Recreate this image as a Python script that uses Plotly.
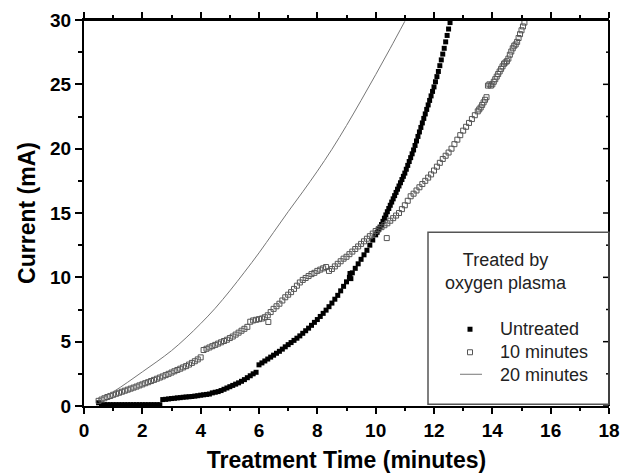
import plotly.graph_objects as go

# ---------------- data ----------------
# Untreated (filled squares)
untreated_x = [0.5, 0.6, 0.7, 0.8, 0.9, 1.0, 1.1, 1.2, 1.3, 1.4, 1.5, 1.6, 1.7, 1.8, 1.9,
               2.0, 2.1, 2.2, 2.3, 2.4, 2.5, 2.6, 2.7, 2.8, 2.9, 3.0, 3.1, 3.2, 3.3, 3.4,
               3.5, 3.6, 3.7, 3.8, 3.9, 4.0, 4.1, 4.2, 4.3, 4.4, 4.5, 4.6, 4.7, 4.8, 4.9,
               5.0, 5.1, 5.2, 5.3, 5.4, 5.5, 5.6, 5.7, 5.8, 5.9, 6.0, 6.1, 6.2, 6.3, 6.4,
               6.5, 6.6, 6.7, 6.8, 6.9, 7.0, 7.1, 7.2, 7.3, 7.4, 7.5, 7.6, 7.7, 7.8, 7.9,
               8.0, 8.1, 8.2, 8.3, 8.4, 8.5, 8.6, 8.7, 8.8, 8.9, 9.0, 9.1, 9.2, 9.3, 9.4,
               9.5, 9.6, 9.7, 9.8, 9.9, 10.0,
               10.05, 10.1, 10.15, 10.2, 10.25, 10.3, 10.35, 10.4, 10.45, 10.5, 10.55, 10.6,
               10.65, 10.7, 10.75, 10.8, 10.85, 10.9, 10.95, 11.0, 11.05, 11.1, 11.15, 11.2,
               11.25, 11.3, 11.35, 11.4, 11.45, 11.5, 11.55, 11.6, 11.65, 11.7, 11.75, 11.8,
               11.85, 11.9, 11.95, 12.0, 12.05, 12.1, 12.15, 12.2, 12.25, 12.3, 12.35, 12.4,
               12.45, 12.5, 12.55, 9.12, 9.15]
untreated_y = [0.25, 0.15, 0.1, 0.1, 0.1, 0.1, 0.1, 0.1, 0.1, 0.1, 0.1, 0.1, 0.1, 0.1, 0.1,
               0.1, 0.1, 0.1, 0.1, 0.1, 0.1, 0.1, 0.5, 0.52, 0.55, 0.58, 0.6, 0.63, 0.65, 0.68,
               0.7, 0.72, 0.74, 0.77, 0.8, 0.84, 0.87, 0.9, 0.93, 1.02, 1.07, 1.12, 1.2, 1.3, 1.4,
               1.5, 1.6, 1.7, 1.8, 1.92, 2.05, 2.2, 2.35, 2.5, 2.62, 3.2, 3.35, 3.5, 3.65, 3.8,
               3.95, 4.1, 4.25, 4.42, 4.6, 4.77, 4.93, 5.1, 5.27, 5.45, 5.65, 5.85, 6.05, 6.27, 6.5,
               6.72, 6.96, 7.2, 7.45, 7.72, 8.0, 8.3, 8.6, 8.95, 9.3, 9.65, 10.0, 10.35, 10.7, 11.05,
               11.4, 11.75, 12.1, 12.5, 12.9, 13.3,
               13.5, 13.7, 13.9, 14.1, 14.35, 14.6, 14.85, 15.1, 15.35, 15.6, 15.85, 16.1,
               16.35, 16.6, 16.85, 17.1, 17.35, 17.6, 17.85, 18.1, 18.4, 18.7, 19.0, 19.3,
               19.6, 19.9, 20.25, 20.6, 20.95, 21.3, 21.65, 22.0, 22.35, 22.7, 23.05, 23.4,
               23.75, 24.1, 24.45, 24.8, 25.2, 25.6, 26.0, 26.45, 26.9, 27.35, 27.8, 28.3,
               28.8, 29.3, 29.8, 10.3, 9.9]

# 10 minutes oxygen plasma (open squares)
ten_x = [0.5, 0.6, 0.7, 0.8, 0.9, 1.0, 1.1, 1.2, 1.3, 1.4, 1.5, 1.6, 1.7, 1.8, 1.9,
         2.0, 2.1, 2.2, 2.3, 2.4, 2.5, 2.6, 2.7, 2.8, 2.9, 3.0, 3.1, 3.2, 3.3, 3.4,
         3.5, 3.6, 3.7, 3.8, 3.9, 4.0, 4.1, 4.2, 4.3, 4.4, 4.5, 4.6, 4.7, 4.8, 4.9,
         5.0, 5.1, 5.2, 5.3, 5.4, 5.5, 5.6, 5.7, 5.8, 5.9, 6.0, 6.1, 6.2, 6.3, 6.4,
         6.5, 6.6, 6.7, 6.8, 6.9, 7.0, 7.1, 7.2, 7.3, 7.4, 7.5, 7.6, 7.7, 7.8, 7.9,
         8.0, 8.1, 8.2, 8.3, 8.4, 8.5, 8.6, 8.7, 8.8, 8.9, 9.0, 9.1, 9.2, 9.3, 9.4,
         9.5, 9.6, 9.7, 9.8, 9.9, 10.0, 10.1, 10.2, 10.3, 10.4, 10.5, 10.6, 10.7, 10.8,
         10.9, 11.0, 11.1, 11.2, 11.3, 11.4, 11.5, 11.6, 11.7, 11.8, 11.9, 12.0, 12.1,
         12.2, 12.3, 12.4, 12.5, 12.6, 12.7, 12.8, 12.9, 13.0, 13.1, 13.2, 13.3, 13.4,
         13.5, 13.55, 13.6, 13.65, 13.7, 13.75, 13.8, 13.85, 13.9, 13.95, 14.0, 14.05,
         14.1, 14.15, 14.2, 14.25, 14.3, 14.35, 14.4, 14.45, 14.5, 14.55, 14.6, 14.65,
         14.7, 14.75, 14.8, 14.85, 14.9, 14.95, 15.0, 15.05, 15.1,
         6.32, 10.38]
ten_y = [0.4, 0.5, 0.6, 0.7, 0.78, 0.87, 0.95, 1.03, 1.11, 1.19, 1.27, 1.35, 1.43, 1.51, 1.6,
         1.68, 1.77, 1.85, 1.94, 2.03, 2.12, 2.21, 2.3, 2.4, 2.5, 2.6, 2.7, 2.8, 2.9, 3.0,
         3.1, 3.22, 3.35, 3.48, 3.62, 3.78, 4.35, 4.45, 4.55, 4.65, 4.75, 4.85, 4.95, 5.05, 5.15,
         5.28, 5.4, 5.55, 5.7, 5.85, 6.0, 6.15, 6.55, 6.65, 6.7, 6.75, 6.8, 6.9, 7.05, 7.3,
         7.55, 7.75, 7.95, 8.2, 8.45, 8.65, 8.85, 9.1, 9.35, 9.6, 9.8, 9.95, 10.1, 10.25, 10.35,
         10.5, 10.6, 10.7, 10.8, 10.5, 10.65, 10.85, 11.05, 11.25, 11.45, 11.6, 11.8, 12.0, 12.2, 12.4,
         12.6, 12.8, 13.0, 13.2, 13.4, 13.6, 13.75, 13.9, 14.05, 14.2, 14.4, 14.6, 14.8, 15.0,
         15.3, 15.6, 15.95, 16.3, 16.5, 16.75, 17.0, 17.25, 17.5, 17.75, 18.0, 18.3, 18.6,
         18.9, 19.2, 19.45, 19.7, 20.0, 20.35, 20.7, 21.05, 21.4, 21.7, 22.0, 22.3, 22.6,
         22.9, 23.05, 23.2, 23.4, 23.6, 23.8, 24.0, 24.9, 25.0, 24.9, 25.0, 25.2,
         25.4, 25.6, 25.8, 26.0, 26.2, 26.4, 26.6, 26.7, 26.8, 27.0, 27.3, 27.55,
         27.8, 28.0, 28.1, 28.3, 28.6, 28.9, 29.2, 29.5, 29.8,
         6.53, 13.05]

# 20 minutes oxygen plasma (thin line)
twenty_x = [0.5, 1.0, 1.5, 2.0, 2.5, 3.0, 3.5, 4.0, 4.5, 5.0, 5.5, 6.0, 6.5, 7.0,
            7.5, 8.0, 8.5, 9.0, 9.5, 10.0, 10.5, 11.0]
twenty_y = [0.5, 1.1, 1.85, 2.65, 3.45, 4.3, 5.3, 6.4, 7.6, 8.95, 10.4, 11.9, 13.5, 15.1,
            16.65, 18.25, 19.95, 21.8, 23.75, 25.75, 27.8, 29.9]

x_ticks = [0, 2, 4, 6, 8, 10, 12, 14, 16, 18]
x_minor = [1, 3, 5, 7, 9, 11, 13, 15, 17]
y_ticks = [0, 5, 10, 15, 20, 25, 30]
y_minor = [2.5, 7.5, 12.5, 17.5, 22.5, 27.5]
legend_title = "Treated by<br>oxygen plasma"
series_names = ["Untreated", "10 minutes", "20 minutes"]

FONT = "Liberation Sans, Arial, sans-serif"
TEXT_COL = "#222222"

fig = go.Figure()
fig.add_trace(go.Scatter(
    x=untreated_x, y=untreated_y, mode="markers", name=series_names[0],
    marker=dict(symbol="square", size=5, color="black", line=dict(width=0)),
))
fig.add_trace(go.Scatter(
    x=ten_x, y=ten_y, mode="markers", name=series_names[1],
    marker=dict(symbol="square-open", size=5, color="#555555", line=dict(width=1)),
))
fig.add_trace(go.Scatter(
    x=twenty_x, y=twenty_y, mode="lines", name=series_names[2],
    line=dict(color="#777777", width=1, shape="spline"),
))

axis_common = dict(showline=True, linecolor="black", linewidth=2, showgrid=False,
                   zeroline=False, tickcolor="black", tickwidth=1.5, automargin=False)
tick_font = dict(size=19, weight="bold", family=FONT, color="black")
title_font = dict(size=23, weight="bold", family=FONT, color="black")

PLOT_W, PLOT_H = 525.0, 385.7

# paper-coordinate helpers for the hand-placed legend box
def px_x(px):
    return (px - 84) / PLOT_W

def px_y(py):
    return (405.7 - py) / PLOT_H

frame_shapes = [
    dict(type="line", xref="paper", yref="paper", x0=0, x1=1, y0=1, y1=1,
         line=dict(color="black", width=2)),
    dict(type="line", xref="paper", yref="paper", x0=1, x1=1, y0=0, y1=1,
         line=dict(color="black", width=2)),
]
# right ticks (inside), placed through the y scale
for t in y_ticks:
    frame_shapes.append(dict(type="line", xref="paper", yref="y", y0=t, y1=t,
                             x0=1, x1=1 - 6 / PLOT_W, line=dict(color="black", width=1.5)))
for t in y_minor:
    frame_shapes.append(dict(type="line", xref="paper", yref="y", y0=t, y1=t,
                             x0=1, x1=1 - 3 / PLOT_W, line=dict(color="black", width=1.5)))

legend_shapes = [
    dict(type="rect", xref="paper", yref="paper", x0=px_x(428), x1=1.0,
         y0=px_y(404), y1=px_y(232), line=dict(color="#555555", width=1.5),
         fillcolor="rgba(0,0,0,0)"),
    dict(type="rect", xref="paper", yref="paper", x0=px_x(467.5), x1=px_x(472.5),
         y0=px_y(331.5), y1=px_y(326.5), line=dict(width=0), fillcolor="black"),
    dict(type="rect", xref="paper", yref="paper", x0=px_x(467.5), x1=px_x(472.5),
         y0=px_y(354.5), y1=px_y(349.5), line=dict(color="#555555", width=1),
         fillcolor="white"),
    dict(type="line", xref="paper", yref="paper", x0=px_x(460), x1=px_x(482),
         y0=px_y(374), y1=px_y(374), line=dict(color="#777777", width=1)),
]

fig.update_layout(
    width=621, height=475,
    margin=dict(l=84, r=12, t=20, b=69),
    paper_bgcolor="white", plot_bgcolor="white",
    font=dict(family=FONT, color="black"),
    showlegend=False,
    xaxis=dict(
        range=[0, 18], tickvals=x_ticks, ticks="outside", ticklen=6, mirror="allticks",
        tickfont=tick_font, ticklabelstandoff=0,
        minor=dict(tickvals=x_minor, ticks="outside", ticklen=3, tickcolor="black",
                   tickwidth=1.5),
        title=dict(text="Treatment Time (minutes)", font=title_font, standoff=12),
        **axis_common,
    ),
    yaxis=dict(
        range=[0, 30], tickvals=y_ticks, ticks="outside", ticklen=7,
        tickfont=tick_font,
        minor=dict(tickvals=y_minor, ticks="outside", ticklen=4, tickcolor="black",
                   tickwidth=1.5),
        title=dict(text="Current (mA)", font=title_font, standoff=8),
        **axis_common,
    ),
    shapes=frame_shapes + legend_shapes,
    annotations=[
        dict(text=legend_title, xref="paper", yref="paper", x=px_x(506), y=px_y(271.5),
             xanchor="center", yanchor="middle", align="center", showarrow=False,
             font=dict(size=18, family=FONT, color=TEXT_COL)),
    ] + [
        dict(text=name, xref="paper", yref="paper", x=px_x(498), y=px_y(yc),
             xanchor="left", yanchor="middle", showarrow=False,
             font=dict(size=18, family=FONT, color=TEXT_COL))
        for name, yc in zip(series_names, [329, 352, 374.5])
    ],
)

fig.write_html("out.html")
